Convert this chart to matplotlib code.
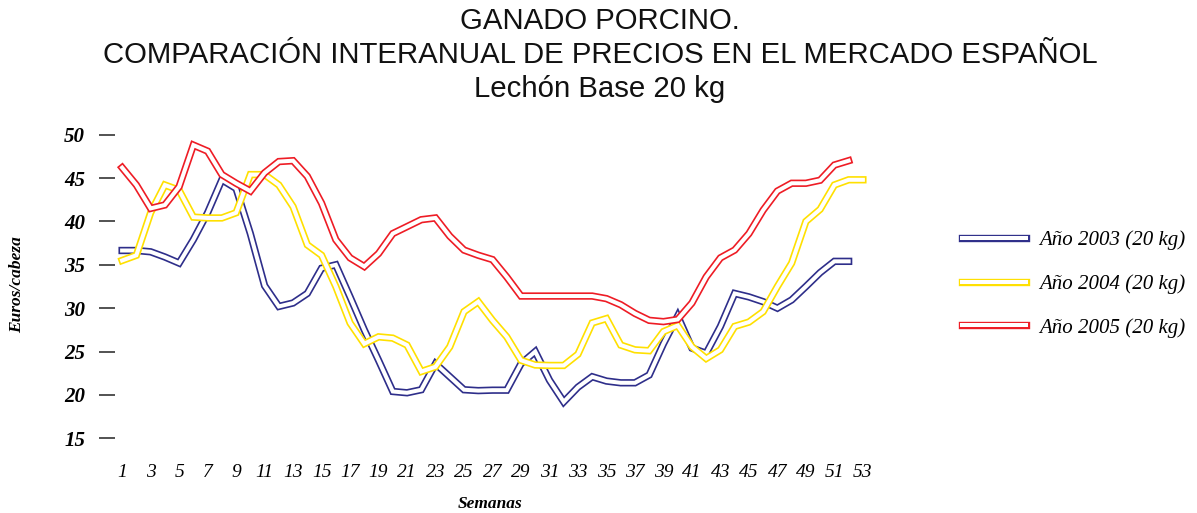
import matplotlib
matplotlib.use("Agg")
import matplotlib.pyplot as plt
import matplotlib.patheffects as pe

weeks_2003 = list(range(1, 53))
values_2003 = [36.65, 36.65, 36.5, 35.9, 35.2, 37.9, 41.0, 44.8, 43.8, 38.6,
               32.6, 30.2, 30.6, 31.7, 34.6, 35.0, 31.3, 27.5, 24.0, 20.4,
               20.25, 20.6, 23.6, 22.1, 20.6, 20.5, 20.55, 20.55, 23.6, 25.0,
               21.7, 19.2, 20.9, 22.1, 21.6, 21.4, 21.4, 22.3, 25.9, 29.1,
               25.4, 24.8, 27.9, 31.7, 31.3, 30.75, 30.0, 30.95, 32.5, 34.1,
               35.4, 35.4]

weeks_2004 = list(range(1, 54))
values_2004 = [35.5, 36.1, 41.0, 44.2, 43.6, 40.5, 40.4, 40.4, 41.0, 45.4,
               45.4, 44.2, 41.7, 37.3, 36.1, 32.5, 28.3, 25.9, 26.7, 26.55,
               25.75, 22.7, 23.25, 25.55, 29.6, 30.75, 28.6, 26.7, 24.0, 23.45,
               23.4, 23.4, 24.7, 28.3, 28.8, 25.75, 25.2, 25.1, 27.3, 28.0,
               25.55, 24.2, 25.2, 27.9, 28.4, 29.6, 32.5, 35.2, 40.0, 41.4,
               44.2, 44.8, 44.8]

weeks_2005 = list(range(1, 53))
values_2005 = [46.2, 44.2, 41.5, 41.9, 44.0, 48.8, 48.1, 45.4, 44.4, 43.5,
               45.6, 46.9, 47.0, 45.2, 42.1, 37.9, 35.8, 34.8, 36.3, 38.6,
               39.4, 40.2, 40.4, 38.3, 36.7, 36.1, 35.6, 33.6, 31.4, 31.4,
               31.4, 31.4, 31.4, 31.4, 31.1, 30.4, 29.4, 28.6, 28.45, 28.7,
               30.6, 33.6, 35.8, 36.7, 38.6, 41.3, 43.5, 44.4, 44.4, 44.75,
               46.5, 47.0]

labels = ["Año 2003 (20 kg)", "Año 2004 (20 kg)", "Año 2005 (20 kg)"]
colors = ["#2e2e8a", "#ffe000", "#ee1c25"]

y_ticks = [15, 20, 25, 30, 35, 40, 45, 50]
x_ticks = list(range(1, 54, 2))

title_lines = ["GANADO PORCINO.",
               "COMPARACIÓN INTERANUAL DE PRECIOS EN EL MERCADO ESPAÑOL",
               "Lechón Base 20 kg"]

W, H = 1197, 513
fig = plt.figure(figsize=(W / 100, H / 100), dpi=100)
ax = fig.add_axes([115 / W, 1 - 447 / H, (870 - 115) / W, (447 - 126) / H])

for wk, vals, lab, col in zip([weeks_2003, weeks_2004, weeks_2005],
                              [values_2003, values_2004, values_2005],
                              labels, colors):
    ax.plot(wk, vals, color="white", lw=2.9, solid_joinstyle="miter",
            solid_capstyle="projecting", label=lab,
            path_effects=[pe.Stroke(linewidth=5.3, foreground=col,
                                    joinstyle="miter", capstyle="projecting"),
                          pe.Normal()])

ax.set_xlim(0.5, 53.5)
ax.set_ylim(14, 51)
for s in ax.spines.values():
    s.set_visible(False)

ax.set_yticks(y_ticks)
ax.set_yticklabels([str(v) for v in y_ticks], family="Liberation Serif",
                   style="italic", weight="bold", fontsize=15)
ax.tick_params(axis="y", direction="out", length=11.5, width=1.3,
               color="#444444", pad=10)
ax.set_xticks(x_ticks)
ax.set_xticklabels([str(v) for v in x_ticks], family="Liberation Serif",
                   style="italic", fontsize=14)
ax.tick_params(axis="x", length=0, pad=12)

fig.text(17 / W, 1 - 285 / H, "Euros/cabeza", rotation=90, ha="center",
         va="center", family="Liberation Serif", style="italic",
         weight="bold", fontsize=12.5)
fig.text(490 / W, 1 - 504 / H, "Semanas", ha="center", va="center",
         family="Liberation Serif", style="italic", weight="bold",
         fontsize=12.5)

for txt, yc in zip(title_lines, [21, 55, 89]):
    fig.text(600 / W, 1 - yc / H, txt, ha="center", va="center",
             family="Liberation Sans", fontsize=21.2, color="#111111")

leg = fig.legend(loc="center left", bbox_to_anchor=(952 / W, 1 - 284 / H),
                 frameon=False, prop={"family": "Liberation Serif",
                                      "style": "italic", "size": 15},
                 handlelength=3.05, handletextpad=0.65, labelspacing=1.15,
                 borderpad=0)

fig.savefig("out.png", dpi=100)
